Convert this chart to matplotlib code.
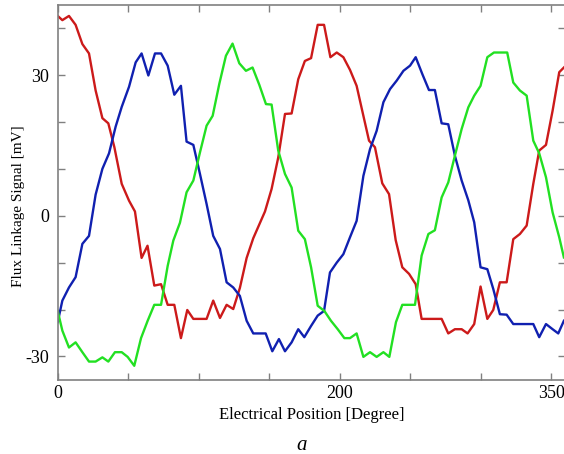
import matplotlib
matplotlib.use("Agg")
import matplotlib.pyplot as plt

plt.rcParams["font.family"] = ["Liberation Serif", "DejaVu Serif"]

# red phase
red_deg = [0, 3.3, 8, 12.7, 17.5, 22.2, 26.9, 31.7, 35.9, 40.2, 45.4, 50.6, 54.8, 59.5,
           63.7, 68.5, 73.3, 78, 82.7, 87.4, 91.9, 96.2, 105.6, 110.3, 115.1, 119.8, 124.5,
           129.2, 134, 138.7, 147, 151.7, 156.4, 161.2, 165.9, 170.6, 175.3, 179.7, 184.4,
           188.9, 193.4, 197.9, 202.6, 207.3, 212, 216.8, 220.8, 225, 230.2, 235, 239.7,
           244.4, 249.2, 253.9, 258.1, 272.3, 277, 281.7, 286.5, 290.7, 295.4, 299.9, 304.7,
           308.9, 313.6, 318.4, 323.1, 327.8, 332.6, 337.3, 341.5, 346.3, 351, 355.7, 359]
red_mv = [42.6, 41.7, 42.6, 40.7, 36.6, 34.6, 26.7, 20.8, 19.7, 14.6, 6.8, 3.2, 0.9, -9.0,
          -6.4, -14.9, -14.6, -19.0, -19.0, -26.1, -20.1, -22.0, -22.0, -18.1, -21.8, -19.0,
          -19.9, -15.4, -9.0, -4.8, 0.9, 5.7, 12.4, 21.7, 21.8, 29.1, 33.0, 33.6, 40.7, 40.7,
          33.8, 34.8, 33.8, 31.1, 27.7, 21.3, 16.0, 14.6, 6.9, 4.6, -5.2, -11.0, -12.4, -14.6,
          -22.0, -22.0, -25.1, -24.2, -24.2, -25.1, -23.1, -15.1, -22.0, -20.1, -14.2, -14.2,
          -5.0, -3.9, -2.1, 6.8, 13.9, 15.1, 22.4, 30.6, 31.6]

# blue phase
blue_deg = [0, 3.3, 8, 12.7, 17.5, 22.2, 26.9, 31.7, 36.4, 41.1, 45.4, 50.6, 55.3, 59.5,
            64.3, 69, 73.3, 78, 82.7, 87.4, 91.4, 96.2, 100.9, 105.6, 110.3, 115.1, 119.8,
            124.5, 129.2, 134, 138.7, 147.5, 152.2, 156.9, 161.2, 165.9, 170.6, 174.9, 179.7,
            184.4, 188.9, 193.1, 197.9, 202.6, 207.3, 212, 216.8, 221.5, 226.2, 231, 235.7,
            240.4, 245.2, 249.9, 253.9, 258.6, 263.3, 267.5, 272.3, 277, 281.7, 286.5, 291.2,
            295.4, 299.9, 304.7, 308.9, 313.6, 318.4, 323.1, 337.3, 341.5, 346.3, 351, 355, 359]
blue_mv = [-22.7, -18.1, -15.3, -13.1, -6.0, -4.3, 4.5, 10.0, 13.3, 19.0, 23.2, 27.5, 32.7,
           34.6, 29.9, 34.6, 34.6, 32.0, 25.8, 27.7, 15.8, 15.1, 8.9, 2.5, -4.3, -7.1, -14.2,
           -15.3, -17.1, -22.4, -25.1, -25.1, -28.9, -26.3, -28.9, -27.0, -24.2, -25.9, -23.5,
           -21.3, -20.3, -12.1, -10.0, -8.2, -4.6, -1.1, 8.5, 14.2, 18.1, 24.2, 27.0, 28.8,
           30.9, 32.0, 33.8, 30.2, 26.8, 26.8, 19.7, 19.5, 12.8, 7.5, 3.3, -1.4, -11.0, -11.4,
           -15.6, -21.0, -21.1, -23.1, -23.1, -25.9, -23.1, -24.2, -25.1, -22.4]

# green phase
green_deg = [0, 3.3, 8, 12.7, 17.5, 22.2, 26.9, 31.7, 35.9, 40.6, 45.4, 49.6, 54.3, 59.1,
             63.8, 68.5, 73.3, 78, 82, 86.7, 91.4, 96.2, 100.9, 105.6, 109.9, 114.6, 119.3,
             124, 128.8, 133.5, 138.2, 143, 147.7, 151.7, 156.4, 161.2, 165.9, 170.6, 175.3,
             179.7, 184.4, 189.1, 193.8, 198.6, 203.3, 207.3, 212, 216.8, 221.5, 226.2, 231,
             235.2, 239.9, 244.4, 253.4, 258.1, 262.9, 267.5, 272.3, 277, 281.7, 286.5, 291.2,
             295.4, 299.9, 304.7, 309.4, 318.8, 323.1, 327.8, 332.6, 337.3, 341.5, 346.3, 351,
             355.7, 359]
green_mv = [-20.3, -24.5, -28.1, -27.0, -29.1, -31.1, -31.1, -30.2, -31.1, -29.1, -29.1,
            -30.1, -32.0, -26.1, -22.4, -19.0, -19.0, -10.7, -5.3, -1.5, 5.0, 7.5, 13.5, 19.2,
            21.3, 28.1, 34.1, 36.7, 32.5, 30.9, 31.6, 27.9, 23.8, 23.7, 13.9, 8.9, 6.0, -3.2,
            -5.0, -11.0, -19.2, -20.3, -22.4, -24.2, -26.1, -26.1, -25.1, -30.1, -29.1, -30.1,
            -29.1, -30.1, -22.7, -19.0, -19.0, -8.5, -3.9, -3.1, 3.9, 7.1, 12.8, 18.5, 23.1,
            25.6, 27.7, 33.8, 34.8, 34.8, 28.4, 26.7, 25.6, 16.0, 13.3, 8.2, 0.7, -4.6, -8.9]

x_ticks = [0, 50, 100, 150, 200, 250, 300, 350]
x_labels = ["0", "", "", "", "200", "", "", "350"]
y_ticks = [-30, -20, -10, 0, 10, 20, 30, 40]
y_labels = ["-30", "", "", "0", "", "", "30", ""]

fig = plt.figure(figsize=(5.64, 4.54), dpi=100)
ax = fig.add_axes([0.1023, 0.1633, 0.9, 0.8264])

ax.plot(red_deg, red_mv, color="#cc1a1a", lw=1.7)
ax.plot(blue_deg, blue_mv, color="#1020b0", lw=1.7)
ax.plot(green_deg, green_mv, color="#22e022", lw=1.7)

ax.set_xlim(0, 360)
ax.set_ylim(-35, 45)
ax.set_xticks(x_ticks)
ax.set_xticklabels(x_labels)
ax.set_yticks(y_ticks)
ax.set_yticklabels(y_labels)

ax.tick_params(direction="in", top=True, right=True, length=5, width=1,
               color="#808080", labelsize=13)
ax.tick_params(axis="x", pad=4)
ax.tick_params(axis="y", pad=6)
for s in ax.spines.values():
    s.set_color("#808080")
    s.set_linewidth(1.2)

ax.set_xlabel("Electrical Position [Degree]", fontsize=12, labelpad=3)

fig.text(19 / 564, 1 - 206 / 454, "Flux Linkage Signal [mV]", fontsize=11,
         rotation=90, ha="center", va="center")
fig.text(302 / 564, 1 - 450 / 454, "a", fontsize=15, style="italic",
         ha="center", va="baseline")

fig.savefig("out.png", dpi=100)
